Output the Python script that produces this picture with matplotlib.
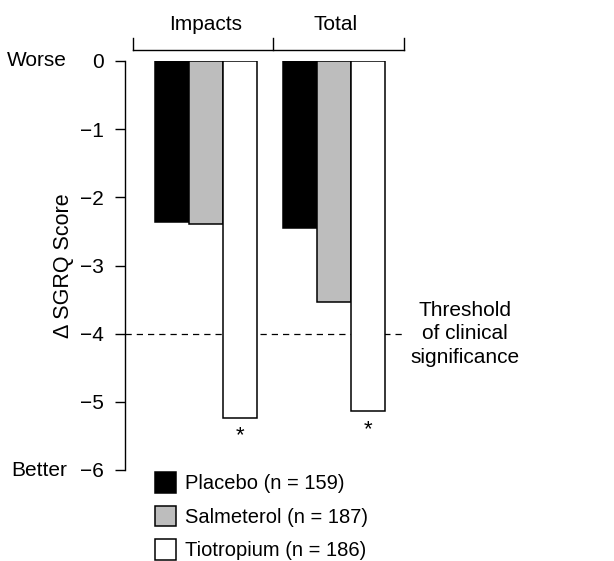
import matplotlib
matplotlib.use("Agg")
import matplotlib.pyplot as plt
from matplotlib.patches import Patch

plt.rcParams['font.family'] = ['Liberation Sans', 'DejaVu Sans']

# ── data ────────────────────────────────────────────────────
groups     = ["Impacts", "Total"]
treatments = ["Placebo (n = 159)", "Salmeterol (n = 187)", "Tiotropium (n = 186)"]
placebo    = [-2.36, -2.45]
salmeterol = [-2.39, -3.54]
tiotropium = [-5.23, -5.14]
yticks     = [0, -1, -2, -3, -4, -5, -6]
threshold  = -4

colors = ["#000000", "#bdbdbd", "#ffffff"]
series = [placebo, salmeterol, tiotropium]
FS = 15

W, H = 614, 561
fig = plt.figure(figsize=(W / 100, H / 100), dpi=100)
ax = fig.add_axes([125 / W, 1 - 470 / H, (W - 125) / W, 409 / H])

bw = 34 / 128
for k, (vals, c) in enumerate(zip(series, colors)):
    xs = [g + (k - 1) * bw for g in range(len(groups))]
    ax.bar(xs, vals, width=bw, color=c, edgecolor="black", linewidth=1.1, zorder=3)

# asterisks under tiotropium bars
for g, v in enumerate(tiotropium):
    ax.annotate("*", (g + bw, v), xytext=(0, -13), textcoords="offset points",
                ha="center", va="center", fontsize=16)

# threshold line
x_left = -81 / 128
ax.plot([x_left, 1.555], [threshold, threshold], ls=(0, (5, 4)), lw=0.9,
        color="black", zorder=1, clip_on=False)
ax.text(2.02, threshold, "Threshold\nof clinical\nsignificance", ha="center", va="center",
        fontsize=FS, linespacing=1.3)

# bracket on top
by, bt = 0.16, 0.34
ax.plot([-0.57, 1.547], [by, by], color="black", lw=1.0, clip_on=False)
for bx in [-0.57, 0.523, 1.547]:
    ax.plot([bx, bx], [by, bt], color="black", lw=1.0, clip_on=False)
for g, name in enumerate(groups):
    ax.text(g + 0.01 * g, 0.53, name, ha="center", va="center", fontsize=FS)

ax.set_xlim(x_left, x_left + (W - 125) / 128)
ax.set_ylim(-6, 0)
ax.set_yticks(yticks)
ax.set_yticklabels([str(t) if t == 0 else "\u2212" + str(-t) for t in yticks])
ax.tick_params(axis="y", length=7.2, width=1.0, pad=8, labelsize=FS)
ax.set_xticks([])
for s in ["top", "right", "bottom"]:
    ax.spines[s].set_visible(False)
ax.spines["left"].set_linewidth(1.0)
ax.patch.set_alpha(0)

fig.text(67 / W, 1 - 61 / H, "Worse", ha="right", va="center", fontsize=FS)
fig.text(67 / W, 1 - 470 / H, "Better", ha="right", va="center", fontsize=FS)
fig.text(63 / W, 1 - 266 / H, "\u0394 SGRQ Score", ha="center", va="center",
         rotation=90, fontsize=15.5)

handles = [Patch(facecolor=c, edgecolor="black", linewidth=1.1) for c in colors]
ax.legend(handles, treatments, loc="upper left", bbox_to_anchor=(155 / W, 1 - 472 / H),
          bbox_transform=fig.transFigure, frameon=False, fontsize=14.5,
          handlelength=1.05, handleheight=1.2, handletextpad=0.45, labelspacing=0.62,
          borderpad=0, borderaxespad=0)

fig.savefig("out.png", dpi=100)
